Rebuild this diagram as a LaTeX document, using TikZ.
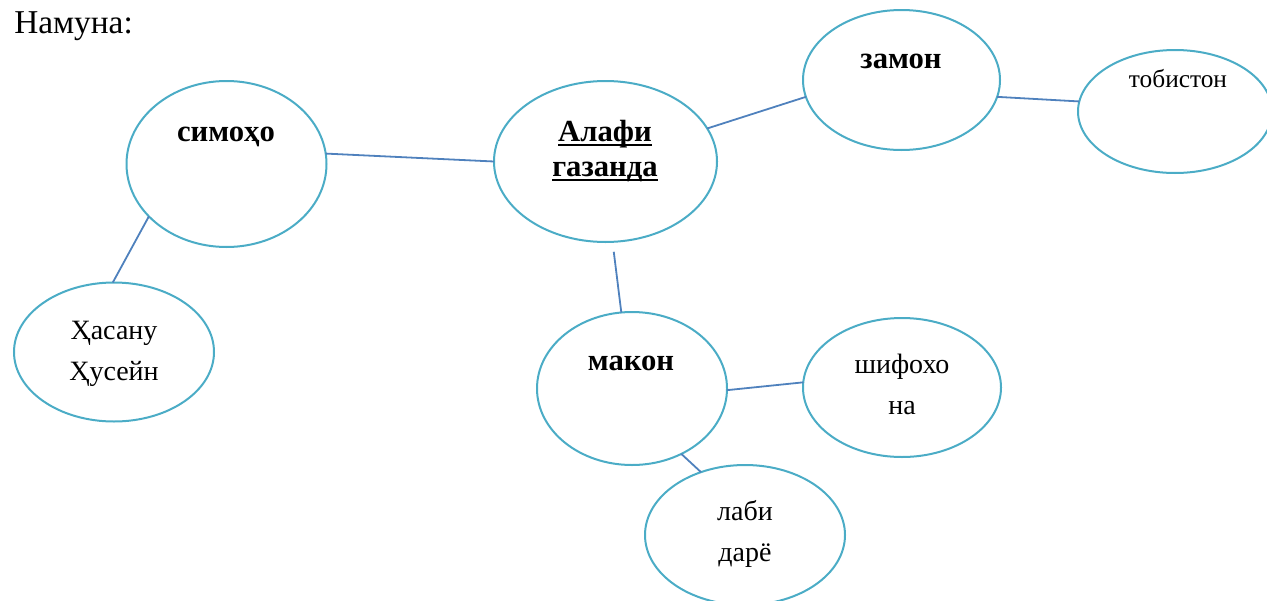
\documentclass[tikz,border=0pt]{standalone}
\usepackage{fontspec}
\setmainfont{Liberation Serif}
\usetikzlibrary{shapes.geometric}
\definecolor{ovalc}{HTML}{4BACC6}
\definecolor{linkc}{HTML}{4F81BD}
\newcommand\myul[1]{\setbox0=\hbox{#1}\rlap{\rule[-3.6pt]{\wd0}{1.3pt}}\box0}
\begin{document}
\begin{tikzpicture}[x=0.75pt,y=-0.75pt,
  oval/.style={draw=ovalc, line width=1.5pt, ellipse, inner sep=0pt, outer sep=0pt},
  link/.style={draw=linkc, line width=1.35pt},
  bt/.style={font=\fontsize{23}{26.25}\selectfont\bfseries, align=center, anchor=base, inner sep=0pt},
  rt/.style={font=\fontsize{21}{30.5}\selectfont, align=center, anchor=base, inner sep=0pt},
  st/.style={font=\fontsize{19}{22}\selectfont, anchor=base, inner sep=0pt}]
\clip (0,0) rectangle (1267,600);
\node[font=\fontsize{25}{28}\selectfont, anchor=base west, inner sep=0pt] (title) at (14,33) {Намуна:};
% ovals
\node[oval, minimum width=150pt, minimum height=124.5pt] (sim) at (226.5,164) {};
\node[oval, minimum width=167.25pt, minimum height=120.75pt] (alaf) at (605.5,161.5) {};
\node[oval, minimum width=147.75pt, minimum height=105pt] (zam) at (901.5,80) {};
\node[oval, minimum width=145.5pt, minimum height=92.25pt] (tob) at (1175,111.5) {};
\node[oval, minimum width=150pt, minimum height=104.25pt] (has) at (114,352) {};
\node[oval, minimum width=142.5pt, minimum height=114.75pt] (mak) at (632,388.5) {};
\node[oval, minimum width=148.5pt, minimum height=104.25pt] (shif) at (902,387.5) {};
\node[oval, minimum width=150pt, minimum height=105pt] (labi) at (745,535) {};
% texts
\node[bt] (simT) at (226,141) {симоҳо};
\node[bt] (alafT) at (605,176) {\myul{Алафи}\\\myul{газанда}};
\node[bt] (zamT) at (901,68) {замон};
\node[st] (tobT) at (1178,87) {тобистон};
\node[rt] (hasT) at (114,380) {Ҳасану\\Ҳусейн};
\node[bt] (makT) at (631,370) {макон};
\node[rt] (shifT) at (902,414) {шифохо\\на};
\node[rt] (labiT) at (745,561) {лаби\\дарё};
% connectors
\draw[link] (sim.6) -- (alaf.west);
\draw[link] (sim.214) -- (has.91);
\draw[link] (alaf.18) -- (zam.190);
\draw[link] (zam.350) -- (tob.174);
\draw[link, shorten <=7.5pt] (alaf.-85) -- (mak.98);
\draw[link] (mak.-1) -- (shif.177);
\draw[link] (mak.-53) -- (labi.125);
\end{tikzpicture}
\end{document}
